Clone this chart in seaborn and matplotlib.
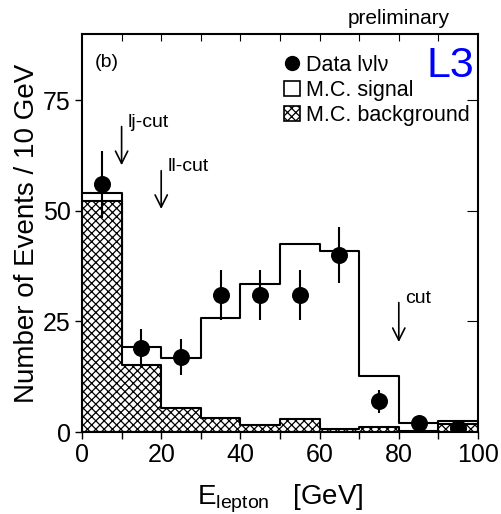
import numpy as np
import pandas as pd
import matplotlib
matplotlib.use("Agg")
import matplotlib.pyplot as plt
import seaborn as sns
from matplotlib.patches import Patch
from matplotlib.lines import Line2D

sns.set_style("white")
plt.rcParams['font.family'] = ['Liberation Sans', 'DejaVu Sans']
plt.rcParams['hatch.linewidth'] = 0.9
plt.rcParams['text.color'] = 'black'
plt.rcParams['axes.labelcolor'] = 'black'
plt.rcParams['xtick.color'] = 'black'
plt.rcParams['ytick.color'] = 'black'

# ---- data ----
bin_edges = [0, 10, 20, 30, 40, 50, 60, 70, 80, 90, 100]
bin_centers = [5, 15, 25, 35, 45, 55, 65, 75, 85, 95]
mc_signal = [54.1, 19.3, 16.7, 25.7, 33.4, 42.5, 40.9, 12.7, 2.1, 2.6]
mc_background = [52.3, 15.2, 5.5, 3.1, 1.6, 2.9, 0.7, 1.2, 0.2, 1.8]
data_x = [5, 15, 25, 35, 45, 55, 65, 75, 85, 95]
data_y = [56, 19, 17, 31, 31, 31, 40, 7, 2, 1]
data_err = [7.5, 4.4, 4.1, 5.6, 5.6, 5.6, 6.3, 2.6, 1.4, 1.0]
cut_labels = ["lj-cut", "ll-cut", "cut"]
cut_x = [10, 20, 80]
cut_top = [69.7, 59.7, 29.9]
cut_bottom = [59.7, 49.8, 19.7]

df_sig = pd.DataFrame({"E": bin_centers, "w": mc_signal})
df_bkg = pd.DataFrame({"E": bin_centers, "w": mc_background})
df_data = pd.DataFrame({"E": data_x, "N": data_y, "err": data_err})

fig = plt.figure(figsize=(5.01, 5.14), dpi=100)
ax = fig.add_axes([82/501, 1-432/514, (478-82)/501, (432-34)/514])

# background (hatched)
sns.histplot(data=df_bkg, x="E", weights="w", bins=bin_edges, element="step",
             fill=True, color="white", edgecolor="black", linewidth=1.5,
             alpha=1, ax=ax)
for coll in ax.collections:
    coll.set_hatch("xxxx")
    coll.set_facecolor("white")
    coll.set_edgecolor("black")

# signal (open step)
sns.histplot(data=df_sig, x="E", weights="w", bins=bin_edges, element="step",
             fill=False, color="black", linewidth=1.5, ax=ax)

# data points
ax.errorbar(df_data["E"], df_data["N"], yerr=df_data["err"], fmt="none",
            ecolor="black", elinewidth=1.5, capsize=0, zorder=4)
sns.scatterplot(data=df_data, x="E", y="N", color="black", s=150,
                edgecolor="black", linewidth=0, ax=ax, zorder=5)

# cut arrows
for lab, x, yt, yb in zip(cut_labels, cut_x, cut_top, cut_bottom):
    ax.annotate("", xy=(x, yb), xytext=(x, yt),
                arrowprops=dict(arrowstyle="->", color="black", lw=1.2,
                                mutation_scale=22))
    ax.text(x + 1.5, yt + 0.3, lab, fontsize=14, ha="left", va="center")

ax.text(3.2, 83.5, "(b)", fontsize=14, ha="left", va="center")
ax.text(99, 82.7, "L3", fontsize=31, color="#0000ff", ha="right", va="center")
fig.text(450/501, 1-18/514, "preliminary", fontsize=15, ha="right", va="center")

handles = [
    Line2D([0], [0], marker="o", color="black", linestyle="none", markersize=10),
    Patch(facecolor="white", edgecolor="black", linewidth=1.2),
    Patch(facecolor="white", edgecolor="black", hatch="xxxx", linewidth=1.2),
]
labels = ["Data lνlν", "M.C. signal", "M.C. background"]
leg = ax.legend(handles, labels, loc="upper right", bbox_to_anchor=(1.0, 0.97),
                frameon=False, fontsize=15.5, handlelength=0.75, handletextpad=0.25,
                labelspacing=0.2, borderaxespad=0.0)
for t in leg.get_texts():
    t.set_color("black")

ax.set_xlim(0, 100)
ax.set_ylim(0, 90)
ax.set_xticks([0, 20, 40, 60, 80, 100])
ax.set_xticks([10, 30, 50, 70, 90], minor=True)
ax.set_yticks([0, 25, 50, 75])
ax.tick_params(axis="both", which="both", direction="out", length=5, width=1,
               labelsize=18, bottom=True, left=True, pad=3, colors="black")
ax.tick_params(axis="x", which="minor", length=5)
sec = ax.secondary_xaxis("top")
sec.set_xticks([10, 20, 30, 40, 50, 60, 70, 80, 90])
sec.tick_params(direction="in", length=5, labeltop=False, colors="black")
sec.set_xticklabels([])
secy = ax.secondary_yaxis("right")
secy.set_yticks([25, 50, 75])
secy.tick_params(direction="in", length=8, labelright=False, colors="black")
secy.set_yticklabels([])
for s in ax.spines.values():
    s.set_linewidth(1.5)
    s.set_color("black")
sec.spines["top"].set_visible(False)
secy.spines["right"].set_visible(False)

ax.set_xlabel(r"E$_{\mathregular{lepton}}$   [GeV]", fontsize=20, labelpad=11)
ax.set_ylabel("Number of Events / 10 GeV", fontsize=20, labelpad=2)

fig.savefig("out.png", dpi=100)
